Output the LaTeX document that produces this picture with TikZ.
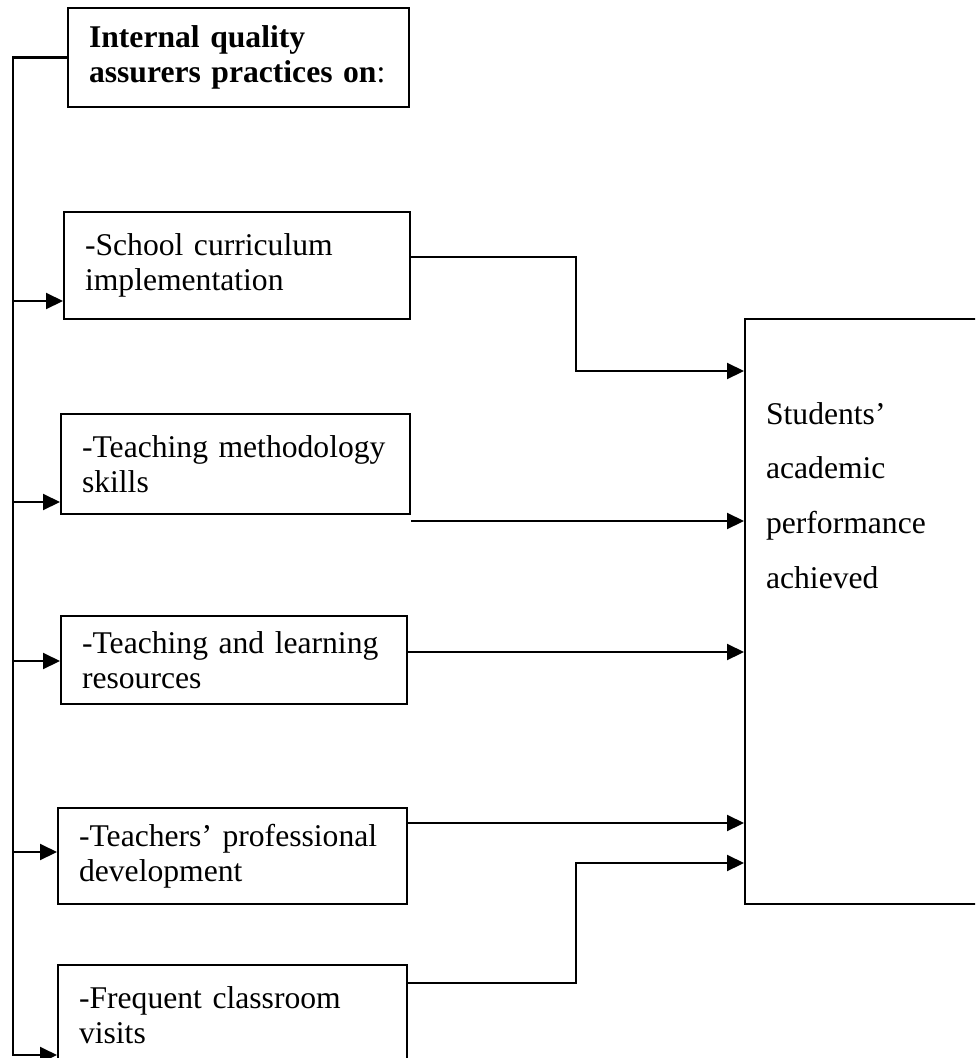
\documentclass[tikz,border=0pt]{standalone}
\usepackage{fontspec}
\setmainfont{Liberation Serif}
\usetikzlibrary{arrows.meta}
\begin{document}
\begin{tikzpicture}[x=0.02cm, y=-0.02cm, line width=1.2pt,
    factor/.style={draw, anchor=north west, align=left, inner xsep=0.42cm, inner ysep=0pt, font=\fontsize{18}{20}\selectfont},
    arr/.style={-{Triangle[length=0.34cm,width=0.32cm]}}]
    \useasboundingbox (0,0) rectangle (975,1058);
    \clip (0,0) rectangle (975,1058);

    \node[factor, text width=5.98cm, minimum height=1.98cm] (assurers) at (67,7) {\textbf{Internal quality}\\\textbf{assurers practices on}:};
    \node[factor, text width=6.08cm, minimum height=2.14cm] (curriculum) at (63,211) {-School curriculum\\implementation};
    \node[factor, text width=6.14cm, minimum height=2cm] (methodology) at (60,413) {-Teaching methodology\\skills};
    \node[factor, text width=6.08cm, minimum height=1.76cm] (resources) at (60,615) {-Teaching and learning\\resources};
    \node[factor, text width=6.14cm, minimum height=1.92cm] (development) at (57,807) {-Teachers’ professional\\development};
    \node[factor, text width=6.14cm, minimum height=2cm] (visits) at (57,964) {-Frequent classroom\\visits};

    \node[draw, anchor=north west, minimum width=5.2cm, minimum height=11.7cm] (outcome) at (744,318) {};
    \node[anchor=north west, align=left, text width=4cm, inner sep=0pt, font=\fontsize{18}{31.3}\selectfont] (outtext) at (765,401) {Students’\\academic\\performance\\achieved};

    \coordinate (spine) at (13,1055);
    \draw[arr] (assurers.west) -| (spine) -- (visits.west |- spine);
    \foreach \name/\y in {curriculum/301, methodology/502, resources/661, development/852}
        \draw[arr] (spine |- 0,\y) -- (\name.west |- 0,\y);

    \draw[arr] (curriculum.east |- 0,257) -| (576,371) -- (outcome.west |- 0,371);
    \draw[arr] (methodology.east |- 0,521) -- (outcome.west |- 0,521);
    \draw[arr] (resources.east |- 0,652) -- (outcome.west |- 0,652);
    \draw[arr] (development.east |- 0,823) -- (outcome.west |- 0,823);
    \draw[arr] (visits.east |- 0,983) -| (576,863) -- (outcome.west |- 0,863);
\end{tikzpicture}
\end{document}
